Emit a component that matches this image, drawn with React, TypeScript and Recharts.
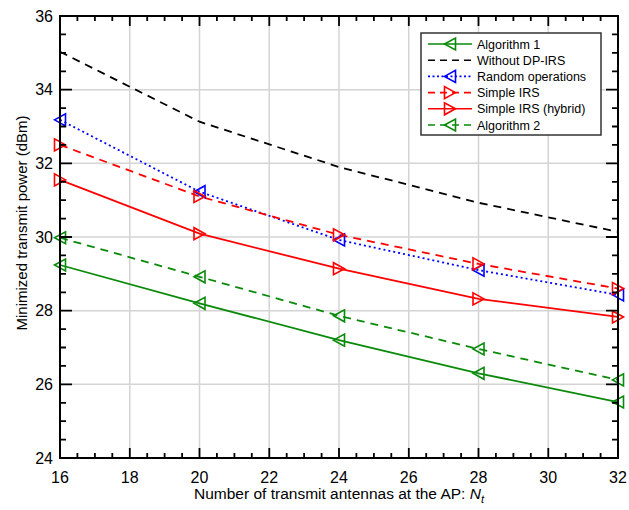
import React from 'react';
import { LineChart, Line, XAxis, YAxis, ReferenceLine } from 'recharts';

// number of transmit antennas N_t
const antennas = [16, 20, 24, 28, 32];

// minimized transmit power (dBm)
const algorithm1 = [29.24, 28.2, 27.2, 26.3, 25.52];
const withoutDpIrs = [35.03, 33.13, 31.9, 30.93, 30.14];
const randomOps = [33.18, 31.23, 29.92, 29.1, 28.43];
const simpleIrs = [32.5, 31.1, 30.06, 29.27, 28.6];
const simpleIrsHybrid = [31.55, 30.09, 29.14, 28.32, 27.83];
const algorithm2 = [29.98, 28.92, 27.86, 26.96, 26.12];

const xMajor = [16, 18, 20, 22, 24, 26, 28, 30, 32];
const yMajor = [24, 26, 28, 30, 32, 34, 36];
const xMinor = [16.5, 17, 17.5, 18.5, 19, 19.5, 20.5, 21, 21.5, 22.5, 23, 23.5, 24.5, 25, 25.5, 26.5, 27, 27.5, 28.5, 29, 29.5, 30.5, 31, 31.5];
const yMinor = [24.5, 25, 25.5, 26.5, 27, 27.5, 28.5, 29, 29.5, 30.5, 31, 31.5, 32.5, 33, 33.5, 34.5, 35, 35.5];

const data = antennas.map((n, i) => ({
  n,
  algorithm1: algorithm1[i],
  withoutDpIrs: withoutDpIrs[i],
  randomOps: randomOps[i],
  simpleIrs: simpleIrs[i],
  simpleIrsHybrid: simpleIrsHybrid[i],
  algorithm2: algorithm2[i],
}));

const FONT = '"Liberation Sans", Arial, sans-serif';
const GREEN = '#0a8a0a';
const RED = '#ff0000';
const BLUE = '#0000ff';

// plot box in page pixels (matches the chart margins below)
const BOX = { left: 60, right: 618, top: 16, bottom: 458 };
const px = (v: number) => BOX.left + ((v - 16) / 16) * (BOX.right - BOX.left);
const py = (v: number) => BOX.bottom - ((v - 24) / 12) * (BOX.bottom - BOX.top);

const tri = (cx: number, cy: number, dir: 'left' | 'right') => {
  const w = 5.5;
  const h = 6;
  return dir === 'left'
    ? `${cx - w},${cy} ${cx + w},${cy - h} ${cx + w},${cy + h}`
    : `${cx + w},${cy} ${cx - w},${cy - h} ${cx - w},${cy + h}`;
};

const makeDot = (color: string, dir: 'left' | 'right') => (props: any) => {
  const { cx, cy, index } = props;
  if (cx == null || cy == null) return <g key={index} />;
  return <polygon key={index} points={tri(cx, cy, dir)} fill="none" stroke={color} strokeWidth={1.6} />;
};

const legendItems = [
  { name: 'Algorithm 1', color: GREEN, dash: undefined, marker: 'left' },
  { name: 'Without DP-IRS', color: '#000', dash: '7 5', marker: null },
  { name: 'Random operations', color: BLUE, dash: '2 2.5', marker: 'left' },
  { name: 'Simple IRS', color: RED, dash: '7 5', marker: 'right' },
  { name: 'Simple IRS (hybrid)', color: RED, dash: undefined, marker: 'right' },
  { name: 'Algorithm 2', color: GREEN, dash: '7 5', marker: 'left' },
] as const;

const LegendBox = () => (
  <svg width={182} height={104} style={{ position: 'absolute', left: 420, top: 32, zIndex: 3 }}>
    <rect x={1} y={1} width={180} height={102} fill="#fff" stroke="#333" strokeWidth={1.5} />
    {legendItems.map((it, i) => {
      const cy = 12 + i * 16.2;
      return (
        <g key={it.name}>
          <line x1={8} y1={cy} x2={52} y2={cy} stroke={it.color} strokeWidth={1.6} strokeDasharray={it.dash} />
          {it.marker && (
            <polygon points={tri(30, cy, it.marker)} fill="none" stroke={it.color} strokeWidth={1.6} />
          )}
          <text x={57} y={cy + 4.5} fontSize={12.5} fontFamily={FONT} fill="#000">
            {it.name}
          </text>
        </g>
      );
    })}
  </svg>
);

// inward MATLAB-style tick marks on all four sides, plus the box outline
const tickPath = () => {
  let d = '';
  xMajor.concat(xMinor).forEach((v) => {
    const len = xMajor.includes(v) ? 10 : 5;
    const x = px(v).toFixed(1);
    d += `M${x} ${BOX.bottom}V${BOX.bottom - len}M${x} ${BOX.top}V${BOX.top + len}`;
  });
  yMajor.concat(yMinor).forEach((v) => {
    const len = yMajor.includes(v) ? 12 : 6;
    const y = py(v).toFixed(1);
    d += `M${BOX.left} ${y}H${BOX.left + len}M${BOX.right} ${y}H${BOX.right - len}`;
  });
  return d;
};

const TickOverlay = () => (
  <svg
    width={629}
    height={510}
    viewBox="0 0 629 510"
    style={{ position: 'absolute', left: 0, top: 0, zIndex: 2, pointerEvents: 'none', overflow: 'visible' }}
  >
    <path d={tickPath()} stroke="#000" strokeWidth={1.8} fill="none" />
    <rect
      x={BOX.left}
      y={BOX.top}
      width={BOX.right - BOX.left}
      height={BOX.bottom - BOX.top}
      fill="none"
      stroke="#000"
      strokeWidth={2}
    />
  </svg>
);

const series = [
  { key: 'algorithm1', color: GREEN, dash: undefined, marker: 'left' },
  { key: 'withoutDpIrs', color: '#000', dash: '8 6', marker: null },
  { key: 'randomOps', color: BLUE, dash: '2 3', marker: 'left' },
  { key: 'simpleIrs', color: RED, dash: '8 6', marker: 'right' },
  { key: 'simpleIrsHybrid', color: RED, dash: undefined, marker: 'right' },
  { key: 'algorithm2', color: GREEN, dash: '8 6', marker: 'left' },
] as const;

const axisLine = { stroke: '#000', strokeWidth: 2 };
const tickText = { fontSize: 16, fill: '#000', fontFamily: FONT };

// grid at major ticks
const gridLines = [
  ...xMajor.slice(1, -1).map((v) => (
    <ReferenceLine key={`gx${v}`} x={v} stroke="#d4d4d4" strokeWidth={1.5} />
  )),
  ...yMajor.slice(1, -1).map((v) => (
    <ReferenceLine key={`gy${v}`} y={v} stroke="#d4d4d4" strokeWidth={1.5} />
  )),
];

export default function App() {
  return (
    <div style={{ position: 'absolute', left: 0, top: 0, width: 629, height: 510, background: '#fff' }}>
      <div style={{ position: 'absolute', left: 0, top: 0, zIndex: 1 }}>
        <LineChart
          width={629}
          height={510}
          data={data}
          margin={{ top: 16, right: 11, bottom: 22, left: 0 }}
        >
          {gridLines}
          <XAxis
            dataKey="n"
            type="number"
            domain={[16, 32]}
            ticks={xMajor}
            interval={0}
            height={30}
            tickSize={0}
            tickMargin={14}
            tickLine={false}
            axisLine={axisLine}
            tick={tickText}
          />
          <YAxis
            type="number"
            domain={[24, 36]}
            ticks={yMajor}
            interval={0}
            width={60}
            tickSize={0}
            tickMargin={7}
            tickLine={false}
            axisLine={axisLine}
            tick={tickText}
          />
          {series.map((s) => (
            <Line
              key={s.key}
              dataKey={s.key}
              type="linear"
              stroke={s.color}
              strokeWidth={1.8}
              strokeDasharray={s.dash}
              dot={s.marker ? makeDot(s.color, s.marker) : false}
              activeDot={false}
              isAnimationActive={false}
            />
          ))}
        </LineChart>
      </div>
      <TickOverlay />
      <LegendBox />
      <div
        style={{
          position: 'absolute',
          left: 21,
          top: 223,
          transform: 'translate(-50%, -50%) rotate(-90deg)',
          whiteSpace: 'nowrap',
          fontFamily: FONT,
          fontSize: 15,
          zIndex: 3,
        }}
      >
        Minimized transmit power (dBm)
      </div>
      <div
        style={{
          position: 'absolute',
          left: 339,
          top: 495,
          transform: 'translate(-50%, -50%)',
          whiteSpace: 'nowrap',
          fontFamily: FONT,
          fontSize: 15.5,
          zIndex: 3,
        }}
      >
        Number of transmit antennas at the AP: <i>N</i>
        <sub style={{ fontStyle: 'italic', fontSize: 11 }}>t</sub>
      </div>
    </div>
  );
}
